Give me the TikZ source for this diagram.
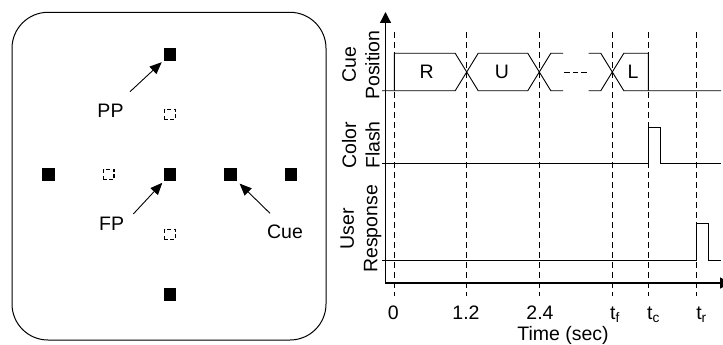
\documentclass[tikz,border=0pt]{standalone}
\usepackage{fontspec}
\setmainfont{Liberation Sans}
\usetikzlibrary{arrows.meta}

\tikzset{
  fsq/.style={fill=black, minimum size=12.5pt, inner sep=0pt},
  dsq/.style={draw, line width=1.2pt, dash pattern=on 4pt off 2.5pt, dash phase=1pt, minimum size=10.5pt, inner sep=0pt},
  pointer/.style={-{Triangle[length=12pt,width=10pt]}, line width=0.9pt, shorten >=2.5pt},
  lbl/.style={inner sep=0pt},
  guide/.style={dash pattern=on 6pt off 4pt, line width=0.9pt},
  sig/.style={line width=0.9pt},
  axisline/.style={line width=1.2pt, {Triangle[length=11pt,width=11pt]}-{Triangle[length=11pt,width=11pt]}},
  chan/.style={rotate=90, align=center, inner sep=0pt},
  tick/.style={anchor=base, inner sep=0pt}
}

\begin{document}
\begin{tikzpicture}[x=1pt,y=-1pt,font=\fontsize{19.5}{23.5}\selectfont]
\useasboundingbox (0,0) rectangle (723,345);

% ---------- screen layout ----------
\draw[line width=1pt, rounded corners=36pt] (12,12.3) rectangle (326,340);

\node[fsq] (top)  at (170,54.5)  {};
\node[fsq] (mid)  at (170,174.5) {};
\node[fsq] (bot)  at (170,294.5) {};
\node[fsq] (lft)  at (48.3,174.5) {};
\node[fsq] (ci)   at (230.3,174.5) {};
\node[fsq] (rgt)  at (291,174.5) {};

\node[dsq] (dup)  at (170,114.5) {};
\node[dsq] (dlf)  at (108.8,174.5) {};
\node[dsq] (ddn)  at (170,234.5) {};

\node[lbl] (pp)   at (110.5,111) {PP};
\node[lbl] (fp)   at (111.7,224) {FP};
\node[lbl] (cue)  at (285,232)   {Cue};

\coordinate (pptail)  at (130,91.7);
\coordinate (fptail)  at (133.3,214);
\coordinate (cuetail) at (270,213.3);

\draw[pointer] (pptail) -- (top);
\draw[pointer] (fptail) -- (mid);
\draw[pointer, shorten >=4pt] (cuetail) -- (ci);

% ---------- timing chart ----------
\foreach \x in {394.3,466.7,539.3,612.3,648.3,696.7}
  \draw[guide] (\x,32) -- (\x,296);

\draw[axisline] (385.5,12) -- (385.5,283) -- (731,283);

% cue position
\draw[sig] (382,90.7) -- (455.2,90.7) -- (478.2,53.3) -- (527.8,53.3) -- (550.8,90.7) -- (563,90.7);
\draw[sig] (394.3,90.7) -- (394.3,53.3) -- (455.2,53.3) -- (478.2,90.7) -- (527.8,90.7) -- (550.8,53.3) -- (563,53.3);
\draw[sig, dash pattern=on 5.7pt off 3pt] (564,72) -- (587,72);
\draw[sig] (588.5,53.3) -- (600.8,53.3) -- (623.8,90.7) -- (721,90.7);
\draw[sig] (588.5,90.7) -- (600.8,90.7) -- (623.8,53.3) -- (648.3,53.3) -- (648.3,90.7);
\node[lbl] (cr) at (426.7,72) {R};
\node[lbl] (cu) at (502,72)   {U};
\node[lbl] (cl) at (633,72)   {L};

% color flash
\draw[sig] (382,163.3) -- (648.3,163.3) -- (648.3,127.3) -- (660.7,127.3) -- (660.7,163.3) -- (721,163.3);
% user response
\draw[sig] (382,260) -- (696.7,260) -- (696.7,223.3) -- (708.7,223.3) -- (708.7,260) -- (721,260);

\node[chan] (ch1) at (361,65)  {Cue\\Position};
\node[chan] (ch2) at (361,145) {Color\\Flash};
\node[chan] (ch3) at (361,229) {User\\Response};

\node[tick] (t0)  at (393.3,319.7) {0};
\node[tick] (t1)  at (466,319.7)   {1.2};
\node[tick] (t2)  at (540,319.7)   {2.4};
\node[tick] (tf)  at (615,319.7)   {t\textsubscript{f}};
\node[tick] (tc)  at (653.5,319.7) {t\textsubscript{c}};
\node[tick] (tr)  at (701.5,319.7) {t\textsubscript{r}};
\node[tick] (tl)  at (563,340)     {Time (sec)};
\end{tikzpicture}
\end{document}
